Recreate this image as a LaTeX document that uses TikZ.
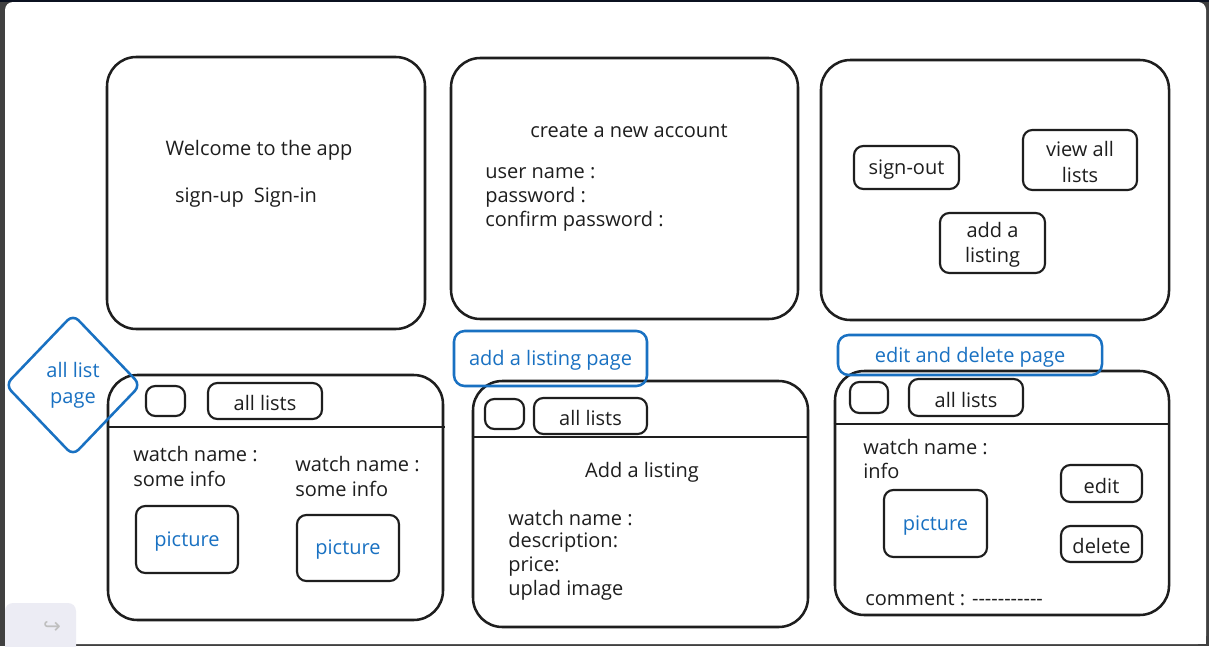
\documentclass[tikz,border=0pt]{standalone}
\usepackage{fontspec}
\setmainfont{Open Sans}
\newfontfamily\symfont{DejaVu Sans}
\usetikzlibrary{shapes.geometric,fit}
\definecolor{ink}{HTML}{1E1E1E}
\definecolor{sky}{HTML}{1971C2}
\definecolor{rim}{HTML}{404040}
\definecolor{navy}{HTML}{0B1120}
\definecolor{panel}{HTML}{ECECF4}
\newcommand{\hand}{\fontsize{15}{19}\selectfont}
\begin{document}
\begin{tikzpicture}[x=0.75pt,y=-0.75pt,
  txt/.style={font=\hand, text=ink, inner sep=0pt, yshift=-1.5pt},
  page/.style={draw=ink, line width=1.9pt, rounded corners=22pt, inner sep=0pt, fit={#1}},
  btn/.style={draw=ink, line width=1.6pt, rounded corners=7pt, inner sep=0pt, fit={#1}},
  cap/.style={label={[txt, align=center]center:#1}},
  pcap/.style={label={[txt, text=sky, align=center]center:#1}},
  tag/.style={draw=sky, line width=1.9pt, rounded corners=8pt, inner sep=0pt, fit={#1}},
  rule/.style={draw=ink, line width=1.9pt}
]
% screen frame and canvas
\useasboundingbox (0,0) rectangle (1209,646);
\fill[rim] (0,0) rectangle (1209,646);
\fill[navy] (0,0) rectangle (1209,2);
\fill[white, rounded corners=6pt] (5,2) rectangle (1206,644);
\fill[white] (5,400) rectangle (1206,644);
% undo / redo panel
\fill[panel, rounded corners=6pt] (5,603) rectangle (76,660);
\node[text=black!25, font=\symfont\fontsize{16}{16}\selectfont, inner sep=0pt] (redo) at (52,627) {↪};

% ---- top row ----
\node[page={(107,57) (425,329)}] (welcome) {};
\node[txt] (wtitle) at (259,148) {Welcome to the app};
\node[txt] (wsign) at (246,196) {sign-up\enspace Sign-in};

\node[page={(451,58) (798,319)}] (account) {};
\node[txt] (atitle) at (629,129) {create a new account};
\node[txt, anchor=west] (auser) at (485,171) {user name :};
\node[txt, anchor=west] (apass) at (485,195) {password :};
\node[txt, anchor=west] (aconf) at (485,219) {confirm password :};

\node[page={(821,60) (1169,320)}] (home) {};
\node[btn={(854,146) (959,189)}, cap={sign-out}] (signout) {};
\node[btn={(1023,130) (1137,190)}, cap={view all\\lists}] (viewall) {};
\node[btn={(940,213) (1045,273)}, cap={add a\\listing}] (addbtn) {};

% ---- all lists page ----
\node[page={(108,375) (443,620)}] (lists) {};
\draw[rule] (lists.west |- 0,427) -- (445,427);
\node[btn={(146,386) (185,416)}] (lmenu) {};
\node[btn={(208,383) (322,419)}, cap={all lists}] (ltab) {};
\node[txt, anchor=west] (lw1) at (133,452) {watch name :};
\node[txt, anchor=west] (li1) at (133,477) {some info};
\node[txt, anchor=west] (lw2) at (295,462) {watch name :};
\node[txt, anchor=west] (li2) at (295,487) {some info};
\node[btn={(136,506) (238,573)}, pcap={picture}] (lpic1) {};
\node[btn={(297,515) (399,581)}, pcap={picture}] (lpic2) {};
\node[diamond, draw=sky, line width=1.9pt, rounded corners=6pt, inner sep=0pt,
      minimum width=136*0.75pt, minimum height=142*0.75pt, align=center,
      text=sky, font=\fontsize{15}{19.5}\selectfont] (listtag) at (73,385) {all list\\page};

% ---- add a listing page ----
\node[page={(473,381) (808,627)}] (addpage) {};
\draw[rule] (addpage.west |- 0,437) -- (addpage.east |- 0,437);
\node[btn={(485,399) (524,429)}] (amenu) {};
\node[btn={(534,398) (647,434)}, cap={all lists}] (atab) {};
\node[txt] (ahead) at (642,470) {Add a listing};
\node[txt, anchor=west] (f1) at (508,516) {watch name :};
\node[txt, anchor=west] (f2) at (508,540) {description:};
\node[txt, anchor=west] (f3) at (508,565) {price:};
\node[txt, anchor=west] (f4) at (508,588) {uplad image};
\node[tag={(454,331) (647,386)}, pcap={add a listing page}] (addtag) {};

% ---- edit and delete page ----
\node[page={(835,371) (1169,615)}] (editpage) {};
\draw[rule] (editpage.west |- 0,424) -- (editpage.east |- 0,424);
\node[btn={(850,382) (888,413)}] (emenu) {};
\node[btn={(909,379) (1023,416)}, cap={all lists}] (etab) {};
\node[txt, anchor=west] (ew) at (863,445) {watch name :};
\node[txt, anchor=west] (ei) at (863,469) {info};
\node[btn={(884,490) (987,557)}, pcap={picture}] (epic) {};
\node[btn={(1061,465) (1142,502)}, cap={edit}] (edit) {};
\node[btn={(1061,526) (1142,562)}, cap={delete}] (delete) {};
\node[txt, anchor=west] (ecomm) at (865,597) {comment : -{}-{}-{}-{}-{}-{}-{}-{}-{}-{}-};
\node[tag={(838,335) (1102,375)}, pcap={edit and delete page}] (edittag) {};
\end{tikzpicture}
\end{document}
